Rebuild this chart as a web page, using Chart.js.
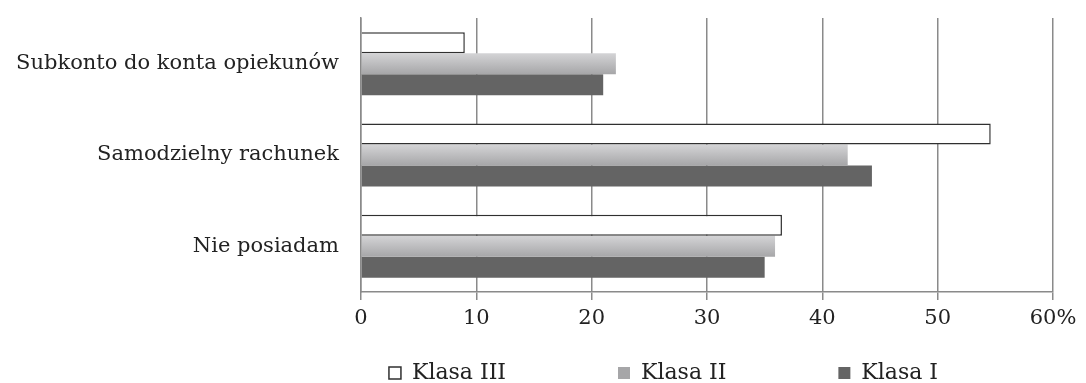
<!DOCTYPE html>
<html>
<head>
<meta charset="utf-8">
<script src="https://cdn.jsdelivr.net/npm/chart.js@4.4.1/dist/chart.umd.min.js"></script>
<style>
  html, body { margin: 0; padding: 0; background: #fff; }
  #wrap { width: 1086px; height: 383px; }
</style>
</head>
<body>
<div id="wrap"><canvas id="chart"></canvas></div>
<script>
const categories = ['Subkonto do konta opiekunów', 'Samodzielny rachunek', 'Nie posiadam'];
const klasaIII = [9.0, 54.6, 36.5];
const klasaII = [22.1, 42.2, 35.9];
const klasaI = [21.0, 44.3, 35.0];
const tickLabels = ['0', '10', '20', '30', '40', '50', '60%'];

const fontFamily = '"DejaVu Serif", "Liberation Serif", serif';
const gridGray = '#8a8a8a';
const catPct = 0.69;
const legendPad = 112;

// light gray bar with a vertical gradient across its thickness
const klasaIIFill = (ctx) => {
    const chart = ctx.chart;
    const yScale = chart.scales ? chart.scales.y : null;
    if (ctx.dataIndex === undefined || !yScale || !yScale.height) {
        return '#c4c4c4';
    }
    const center = yScale.getPixelForValue(ctx.dataIndex);
    const thick = (yScale.height / categories.length) * catPct / 3;
    const g = chart.ctx.createLinearGradient(0, center - thick / 2, 0, center + thick / 2);
    g.addColorStop(0, '#d4d4d6');
    g.addColorStop(1, '#a6a6a8');
    return g;
};

// legend: keep it short in the layout, then put it where it sits in the original
const legendPlace = {
    id: 'legendPlace',
    afterInit(chart) {
        const lg = chart.legend;
        const origFit = lg.fit.bind(lg);
        lg.fit = function () {
            origFit();
            this.height = 40;
        };
    },
    afterLayout(chart) {
        const lg = chart.legend;
        const dx = 137;
        lg.left += dx; lg.right += dx;
        lg.top = 362 - legendPad;
        lg.bottom = 383;
    }
};

new Chart(document.getElementById('chart'), {
    type: 'bar',
    data: {
        labels: categories,
        datasets: [
            {
                label: 'Klasa III',
                data: klasaIII,
                backgroundColor: '#ffffff',
                borderColor: '#303030',
                borderWidth: 1.5
            },
            {
                label: 'Klasa II',
                data: klasaII,
                backgroundColor: klasaIIFill,
                borderWidth: 0
            },
            {
                label: 'Klasa I',
                data: klasaI,
                backgroundColor: '#646464',
                borderWidth: 0
            }
        ]
    },
    plugins: [legendPlace],
    options: {
        indexAxis: 'y',
        responsive: true,
        maintainAspectRatio: false,
        animation: false,
        layout: { padding: { top: 18, right: 33, left: 0, bottom: 0 } },
        datasets: {
            bar: { categoryPercentage: catPct, barPercentage: 1.0 }
        },
        scales: {
            x: {
                min: 0,
                max: 60,
                ticks: {
                    stepSize: 10,
                    padding: 6,
                    color: '#222',
                    font: { family: fontFamily, size: 21 },
                    callback: (v, i) => tickLabels[i]
                },
                grid: {
                    color: gridGray,
                    lineWidth: 1.5,
                    tickLength: 8,
                    tickColor: gridGray
                },
                border: { color: gridGray, width: 1.5 },
                afterFit: (scale) => { scale.height = 51; }
            },
            y: {
                ticks: {
                    padding: 22,
                    color: '#222',
                    font: { family: fontFamily, size: 21 }
                },
                grid: { display: false, drawTicks: false },
                border: { color: gridGray, width: 1.5 },
                afterFit: (scale) => {
                    scale.width = 361;
                    scale.paddingTop = 0;
                    scale.paddingBottom = 0;
                }
            }
        },
        plugins: {
            tooltip: { enabled: false },
            legend: {
                position: 'bottom',
                labels: {
                    boxWidth: 12,
                    boxHeight: 12,
                    padding: legendPad,
                    color: '#222',
                    font: { family: fontFamily, size: 22 }
                }
            }
        }
    }
});
</script>
</body>
</html>
